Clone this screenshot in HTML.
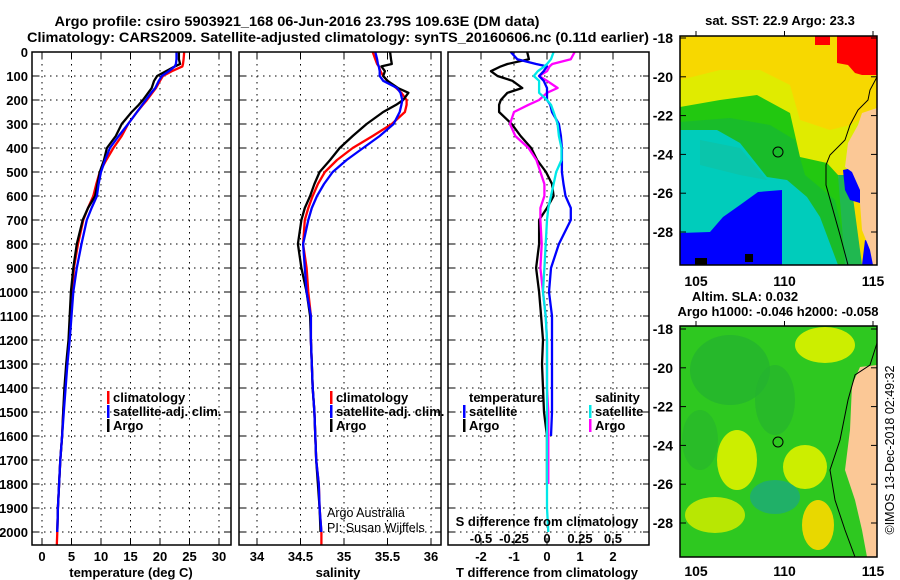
<!DOCTYPE html>
<html><head><meta charset="utf-8"><style>
html,body{margin:0;padding:0;background:#fff;}
svg{display:block;font-family:"Liberation Sans",sans-serif;}
.b{font-weight:bold;font-size:14px;}
.t{font-size:13px;font-weight:bold;}
.n{font-size:12.5px;font-weight:normal;}
</style></head><body>
<svg id="fig" width="900" height="580" viewBox="0 0 900 580" xmlns="http://www.w3.org/2000/svg">
<g>
<text x="297" y="26" text-anchor="middle" class="b" font-size="14" textLength="485" lengthAdjust="spacingAndGlyphs">Argo profile: csiro 5903921_168 06-Jun-2016 23.79S 109.63E (DM data)</text>
<text x="338" y="42" text-anchor="middle" class="b" font-size="14" textLength="622" lengthAdjust="spacingAndGlyphs">Climatology: CARS2009. Satellite-adjusted climatology: synTS_20160606.nc (0.11d earlier)</text>
</g>
<g id="maps">
<text x="780" y="25" text-anchor="middle" class="t">sat. SST: 22.9 Argo: 23.3</text>
<g>
<rect x="680" y="36" width="197" height="229" fill="#f7d800"/>
<polygon points="680,80 720,70 760,70 790,85 800,120 830,130 850,125 877,110 877,170 680,170" fill="#dcee00" opacity="0.85"/>
<polygon points="680,107 720,100 757,95 790,113 800,157 827,163 838,175 850,265 680,265" fill="#22c810"/>
<polygon points="680,122 730,118 770,125 795,140 805,175 835,200 850,265 680,265" fill="#14b43c" opacity="0.6"/>
<polygon points="680,130 717,130 740,143 767,177 787,180 807,197 820,217 838,265 680,265" fill="#00ccbb"/>
<polygon points="700,140 740,148 767,180 740,175 700,165" fill="#10c0a0" opacity="0.6"/>
<polygon points="680,233 710,232 723,217 740,205 758,192 782,190 782,265 680,265" fill="#0000ff"/>
<rect x="695" y="258" width="12" height="7" fill="#000"/>
<rect x="745" y="254" width="8" height="8" fill="#000"/>
<polygon points="837,36 877,36 877,75 862,75 855,73 848,65 837,63" fill="#ff0000"/>
<rect x="815" y="36" width="15" height="9" fill="#ff0000"/>
<polygon points="838,175 850,175 862,265 845,265" fill="#20b850"/>
<polygon points="843,170 852,168 860,185 860,203 850,200 845,190" fill="#0000ff"/>
<polygon points="865,240 877,245 877,265 862,265" fill="#0000ff"/>
<polygon points="877,108 862,113 858,125 848,143 845,167 852,172 860,190 860,203 862,230 870,250 873,265 877,265" fill="#fbc896"/>
<polyline points="877,77 870,90 868,100 858,110 850,125 845,140 830,155 826,165 826,185 833,210 840,235 848,265" fill="none" stroke="#000" stroke-width="1"/>
<circle cx="778" cy="152" r="5" fill="none" stroke="#000" stroke-width="1"/>
<rect x="680" y="36" width="197" height="229" fill="none" stroke="#000" stroke-width="1.5"/>
</g>
<text x="745" y="301" text-anchor="middle" class="t">Altim. SLA: 0.032</text>
<text x="778" y="316" text-anchor="middle" class="t">Argo h1000: -0.046 h2000: -0.058</text>
<g>
<rect x="680" y="326" width="197" height="231" fill="#2ec820"/>
<ellipse cx="730" cy="370" rx="40" ry="35" fill="#24b030" opacity="0.7"/>
<ellipse cx="775" cy="400" rx="20" ry="35" fill="#24b030" opacity="0.6"/>
<ellipse cx="700" cy="440" rx="18" ry="30" fill="#24b030" opacity="0.5"/>
<ellipse cx="825" cy="345" rx="30" ry="18" fill="#ccee00"/>
<ellipse cx="737" cy="460" rx="20" ry="30" fill="#ccee00"/>
<ellipse cx="805" cy="467" rx="22" ry="22" fill="#ccee00"/>
<ellipse cx="715" cy="515" rx="30" ry="18" fill="#c8ea00" opacity="0.9"/>
<ellipse cx="818" cy="525" rx="16" ry="25" fill="#e8d800"/>
<ellipse cx="775" cy="497" rx="25" ry="17" fill="#20b068"/>
<polygon points="877,365 860,367 852,385 850,430 845,470 855,500 862,530 867,557 877,557" fill="#fbc896"/>
<polyline points="877,343 870,365 855,375 848,400 840,440 830,470 835,500 845,530 855,557" fill="none" stroke="#000" stroke-width="1"/>
<circle cx="778" cy="442" r="5" fill="none" stroke="#000" stroke-width="1"/>
<rect x="680" y="326" width="197" height="231" fill="none" stroke="#000" stroke-width="1.5"/>
</g>
<g id="mapaxes" class="t"></g>
<text transform="translate(894,450) rotate(-90)" text-anchor="middle" font-size="12.5">©IMOS 13-Dec-2018 02:49:32</text>
</g>
<g id="plots"></g>
</svg>
<script>
// ---- data ----
const depths = [0,30,50,60,80,100,120,150,170,200,220,250,300,350,400,450,500,550,600,650,700,800,900,1000,1100,1200,1300,1400,1500,1600,1700,1800,1900,2000];
const tempArgo = [23.2,23.2,23.4,22.5,21.0,19.5,19.0,18.6,18.0,17.1,16.4,15.2,13.5,12.5,11.0,10.5,9.8,9.4,9.0,7.8,6.9,5.9,5.3,4.9,4.7,4.5,4.1,3.8,3.6,3.4,3.1,2.9,2.7,2.6];
const tempClim = [24.1,24.0,23.9,23.8,22.0,20.5,20.0,19.3,18.7,17.8,17.1,16.1,14.6,13.5,12.1,10.9,9.8,9.2,8.7,7.8,7.0,6.1,5.4,5.2,4.9,4.6,4.2,3.9,3.6,3.4,3.1,2.9,2.7,2.6];
const tempSat = [22.8,22.8,22.7,22.5,21.5,20.3,19.8,19.2,18.5,17.6,17.0,16.1,14.6,13.0,11.5,10.7,10.0,9.6,9.3,8.4,7.6,6.7,5.9,5.3,5.0,4.7,4.3,4.0,3.7,3.4,3.1,2.9,2.7,2.6];
const salArgo = [35.53,35.54,35.55,35.43,35.47,35.45,35.5,35.62,35.74,35.68,35.6,35.45,35.26,35.1,34.95,34.84,34.72,34.66,34.61,34.55,34.51,34.47,34.51,34.57,34.61,34.62,34.63,34.64,34.66,34.67,34.68,34.7,34.72,34.73];
const salClim = [35.33,35.36,35.38,35.4,35.42,35.45,35.5,35.6,35.66,35.72,35.72,35.7,35.55,35.33,35.1,34.92,34.78,34.7,34.64,34.59,34.55,34.53,34.57,34.59,34.62,34.62,34.63,34.64,34.66,34.67,34.68,34.71,34.72,34.74];
const salSat = [35.36,35.38,35.39,35.4,35.41,35.41,35.45,35.61,35.65,35.67,35.66,35.64,35.57,35.41,35.22,35.03,34.87,34.77,34.69,34.63,34.59,34.53,34.55,34.57,34.62,34.62,34.63,34.64,34.66,34.67,34.68,34.71,34.72,34.74];
const dTempArgo = [-0.6,-0.55,-1.2,-1.4,-1.7,-1.5,-1.05,-0.75,-1.2,-1.4,-1.45,-1.45,-1.07,-0.8,-0.48,-0.3,-0.03,0.15,0.2,0,-0.24,-0.24,-0.33,-0.24,-0.18,-0.12,-0.15,-0.12,-0.09,0,0,0,null,null];
const dTempSat = [-1.1,-0.9,-0.33,0,-0.1,-0.24,-0.1,0,0,0,0.1,0.15,0.36,0.42,0.45,0.45,0.45,0.5,0.56,0.72,0.72,0.36,0.12,0.06,0.15,0.15,0.15,0.15,0.15,0.12,null,null,null,null];
const dSalSat = [0.05,0.03,0,-0.02,-0.07,-0.1,-0.06,-0.06,-0.06,0,0.03,0.05,0.08,0.09,0.11,0.11,0.07,0.05,0.03,0.01,0,-0.01,-0.02,-0.03,-0.01,0,0,0,0,0,0,0,0,0.01];
const dSalArgo = [0.21,0.18,0.04,0.02,0,-0.06,0,0.08,0,-0.06,-0.14,-0.25,-0.28,-0.24,-0.14,-0.08,-0.05,-0.02,-0.02,-0.05,-0.05,-0.04,-0.05,-0.03,-0.01,0,0,0,0.01,0.01,0.01,0.01,null,null];
const depthTicks = [0,100,200,300,400,500,600,700,800,900,1000,1100,1200,1300,1400,1500,1600,1700,1800,1900,2000];
const tempTicks = [0,5,10,15,20,25,30];
const salTicks = [34,34.5,35,35.5,36];
const salTickLabels = ["34","34.5","35","35.5","36"];
const dTTicks = [-2,-1,0,1,2];
const dSTicks = [-0.5,-0.25,0,0.25,0.5];
const dSTickLabels = ["-0.5","-0.25","0","0.25","0.5"];
const latTicks = [-18,-20,-22,-24,-26,-28];
const lonTicks = [105,110,115];

// ---- axes ----
const NS="http://www.w3.org/2000/svg";
const yD = d => 52 + d*0.24;
const xT = t => 42 + t*5.9;
const xS = s => 257 + (s-34)*87;
const xDT = v => 547 + v*33;
const xDS = v => 547 + v*132;
const plots=document.getElementById('plots');
function mk(tag, attrs, parent){const e=document.createElementNS(NS,tag);for(const k in attrs)e.setAttribute(k,attrs[k]);(parent||plots).appendChild(e);return e;}
function txt(x,y,s,anchor,cls,parent){const e=mk('text',{x:x,y:y,'text-anchor':anchor||'middle','class':cls||'t'},parent);e.textContent=s;return e;}

const panels=[{l:32,r:231,name:'temperature-panel'},{l:239,r:441,name:'salinity-panel'},{l:448,r:649,name:'difference-panel'}];
const P=[];
panels.forEach(p=>{
  const g=mk('g',{});
  
  
  P.push(g);
  depthTicks.forEach(d=>{ mk('line',{x1:p.l,x2:p.r,y1:yD(d),y2:yD(d),stroke:'#000','stroke-width':1,'stroke-dasharray':'1.5,4.5'},g);
    mk('line',{x1:p.l,x2:p.l+6,y1:yD(d),y2:yD(d),stroke:'#000'},g); mk('line',{x1:p.r-6,x2:p.r,y1:yD(d),y2:yD(d),stroke:'#000'},g);});
});
function vgrid(g,xs,fx){xs.forEach(v=>{const x=fx(v);mk('line',{x1:x,x2:x,y1:52,y2:545,stroke:'#000','stroke-width':1,'stroke-dasharray':'1.5,4.5'},g);mk('line',{x1:x,x2:x,y1:52,y2:58,stroke:'#000'},g);mk('line',{x1:x,x2:x,y1:539,y2:545,stroke:'#000'},g);});}
vgrid(P[0],tempTicks,xT); vgrid(P[1],salTicks,xS); vgrid(P[2],dTTicks,xDT);

const yl=mk('g',{});


depthTicks.forEach(d=>txt(28,yD(d)+5,String(d),'end','t',yl));
const xl=mk('g',{});


tempTicks.forEach(t=>txt(xT(t),561,String(t),'middle','t',xl));
salTicks.forEach((s,i)=>txt(xS(s),561,salTickLabels[i],'middle','t',xl));
dTTicks.forEach(t=>txt(xDT(t),561,String(t),'middle','t',xl));
dSTicks.forEach((s,i)=>txt(xDS(s),543,dSTickLabels[i],'middle','t',xl));
let e;
e=txt(131,577,'temperature (deg C)');


e=txt(338,577,'salinity');


e=txt(547,577,'T difference from climatology');


e=txt(547,526,'S difference from climatology');


e=txt(327,517,'Argo Australia','start','n');


e=txt(327,532,'PI: Susan Wijffels','start','n');



function series(g,vals,fx,color,name,extraD,extraV){
  let pts=[];
  vals.forEach((v,i)=>{ if(v!==null && v!==undefined) pts.push(fx(v).toFixed(1)+','+yD(depths[i]).toFixed(1)); });
  if(extraD!==undefined) pts.push(fx(extraV).toFixed(1)+','+yD(extraD).toFixed(1));
  const l=mk('polyline',{points:pts.join(' '),fill:'none',stroke:color,'stroke-width':2.3,'stroke-linejoin':'round'},g);
  
  
}
series(P[0],tempClim,xT,'#ff0000','temperature-climatology-line',2055,tempClim[tempClim.length-1]-0.1);
series(P[0],tempArgo,xT,'#000','temperature-argo-line');
series(P[0],tempSat,xT,'#0000ff','temperature-satellite-line');
series(P[1],salClim,xS,'#ff0000','salinity-climatology-line',2055,salClim[salClim.length-1]);
series(P[1],salArgo,xS,'#000','salinity-argo-line');
series(P[1],salSat,xS,'#0000ff','salinity-satellite-line');
series(P[2],dTempArgo,xDT,'#000','t-diff-argo-line');
series(P[2],dSalArgo,xDS,'#ff00ff','s-diff-argo-line');
series(P[2],dTempSat,xDT,'#0000ff','t-diff-satellite-line');
series(P[2],dSalSat,xDS,'#00e8e8','s-diff-satellite-line');

panels.forEach((p,i)=>mk('rect',{x:p.l,y:52,width:p.r-p.l,height:493,fill:'none',stroke:'#000','stroke-width':1.5},P[i]));

function leg(x,y,color,label,name){
  const g=mk('g',{});
  
  
  if(color) mk('rect',{x:x-6,y:y-11,width:2.5,height:13,fill:color},g);
  txt(x,y,label,'start','t',g);
}
leg(113,402,'#ff0000','climatology','legend-temp-climatology');
leg(113,416,'#0000ff','satellite-adj. clim.','legend-temp-satellite');
leg(113,430,'#000','Argo','legend-temp-argo');
leg(336,402,'#ff0000','climatology','legend-sal-climatology');
leg(336,416,'#0000ff','satellite-adj. clim.','legend-sal-satellite');
leg(336,430,'#000','Argo','legend-sal-argo');
leg(469,402,null,'temperature','legend-temperature-header');
leg(469,416,'#0000ff','satellite','legend-dt-satellite');
leg(469,430,'#000','Argo','legend-dt-argo');
leg(595,402,null,'salinity','legend-salinity-header');
leg(595,416,'#00e8e8','satellite','legend-ds-satellite');
leg(595,430,'#ff00ff','Argo','legend-ds-argo');

const ma=document.getElementById('mapaxes');
const yLatTop = v => 38 + (-18 - v)*19.4;
const yLatBot = v => 329 + (-18 - v)*19.4;
const xLon = v => 696 + (v-105)*17.7;
latTicks.forEach(v=>{
  txt(673,yLatTop(v)+5,String(v),'end','b',ma); mk('line',{x1:680,x2:686,y1:yLatTop(v),y2:yLatTop(v),stroke:'#000'},ma); mk('line',{x1:871,x2:877,y1:yLatTop(v),y2:yLatTop(v),stroke:'#000'},ma);
  txt(673,yLatBot(v)+5,String(v),'end','b',ma); mk('line',{x1:680,x2:686,y1:yLatBot(v),y2:yLatBot(v),stroke:'#000'},ma); mk('line',{x1:871,x2:877,y1:yLatBot(v),y2:yLatBot(v),stroke:'#000'},ma);
});
lonTicks.forEach(v=>{
  txt(xLon(v),286,String(v),'middle','b',ma); mk('line',{x1:xLon(v),x2:xLon(v),y1:31,y2:36,stroke:'#000'},ma);
  txt(xLon(v),576,String(v),'middle','b',ma); mk('line',{x1:xLon(v),x2:xLon(v),y1:321,y2:326,stroke:'#000'},ma);
});
</script>
</body></html>
